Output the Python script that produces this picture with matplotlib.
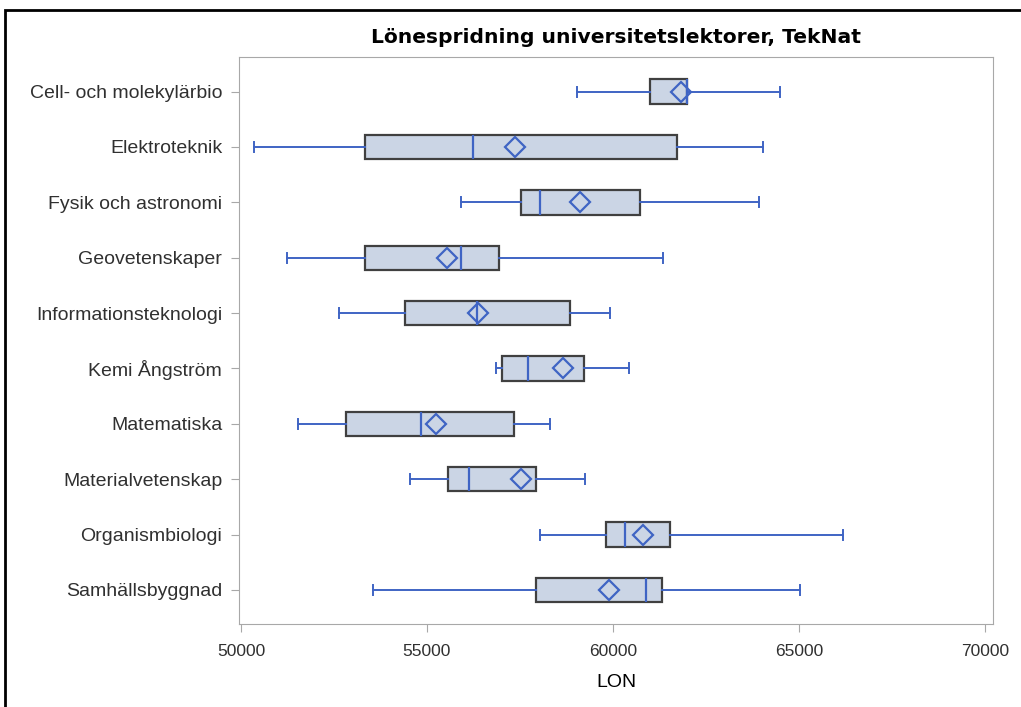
import matplotlib.pyplot as plt
from matplotlib.patches import Rectangle

# ----------------------------
# Data
# ----------------------------
categories = ["Cell- och molekylärbio", "Elektroteknik", "Fysik och astronomi",
              "Geovetenskaper", "Informationsteknologi", "Kemi Ångström",
              "Matematiska", "Materialvetenskap", "Organismbiologi",
              "Samhällsbyggnad"]
whislo = [59030, 50340, 55920, 51230, 52630, 56860, 51530, 54540, 58030, 53540]
q1 = [61000, 53330, 57530, 53330, 54420, 57020, 52820, 55570, 59820, 57920]
med = [61980, 56230, 58030, 55920, 56340, 57720, 54830, 56130, 60330, 60890]
mean = [61820, 57380, 59110, 55550, 56370, 58650, 55230, 57540, 60820, 59900]
q3 = [62000, 61730, 60730, 56930, 58840, 59230, 57340, 57940, 61540, 61330]
whishi = [64500, 64030, 63920, 61340, 59930, 60420, 58320, 59240, 66170, 65030]

xticks = [50000, 55000, 60000, 65000, 70000]

# ----------------------------
# Plot
# ----------------------------
plt.rcParams["font.family"] = ["Liberation Sans", "DejaVu Sans"]

blue = "#3f64c4"
fig = plt.figure(figsize=(10.21, 7.07), dpi=100)
ax = fig.add_axes([0.234, 0.117, 0.7386, 0.802])

stats = []
for i, name in enumerate(categories):
    stats.append(dict(label=name, whislo=whislo[i], q1=q1[i], med=med[i],
                      q3=q3[i], whishi=whishi[i], mean=mean[i], fliers=[]))

pos = list(range(1, len(categories) + 1))
ax.bxp(stats, positions=pos, orientation="horizontal", widths=0.44,
       showmeans=True, patch_artist=True, capwidths=0.18,
       boxprops=dict(facecolor="#cbd5e5", edgecolor="#404040", linewidth=1.6),
       medianprops=dict(color=blue, linewidth=1.6),
       whiskerprops=dict(color=blue, linewidth=1.4),
       capprops=dict(color=blue, linewidth=1.4),
       meanprops=dict(marker="D", markersize=10, markerfacecolor="none",
                      markeredgecolor=blue, markeredgewidth=1.6))

ax.set_ylim(10.62, 0.38)
ax.set_yticks(pos)
ax.set_yticklabels(categories, fontsize=14)
ax.set_xlim(49946, 70215)
ax.set_xticks(xticks)
ax.set_xticklabels([str(v) for v in xticks], fontsize=12.5)
ax.set_xlabel("LON", fontsize=14, labelpad=11)
ax.set_title("Lönespridning universitetslektorer, TekNat", fontsize=14.6,
             fontweight="bold", family="DejaVu Sans", pad=10)

for s in ax.spines.values():
    s.set_color("#a8a8a8")
ax.tick_params(colors="#a8a8a8", labelcolor="#303030", length=6)
ax.tick_params(axis="x", pad=8)
ax.tick_params(axis="y", pad=6)

# black border around the figure (left/top/right visible in reference)
fig.patches.append(Rectangle((5 / 1021, -0.05), 1.1, 1.05 - 10 / 707,
                             transform=fig.transFigure, fill=False,
                             edgecolor="black", linewidth=2))

fig.savefig("out.png", dpi=100)
